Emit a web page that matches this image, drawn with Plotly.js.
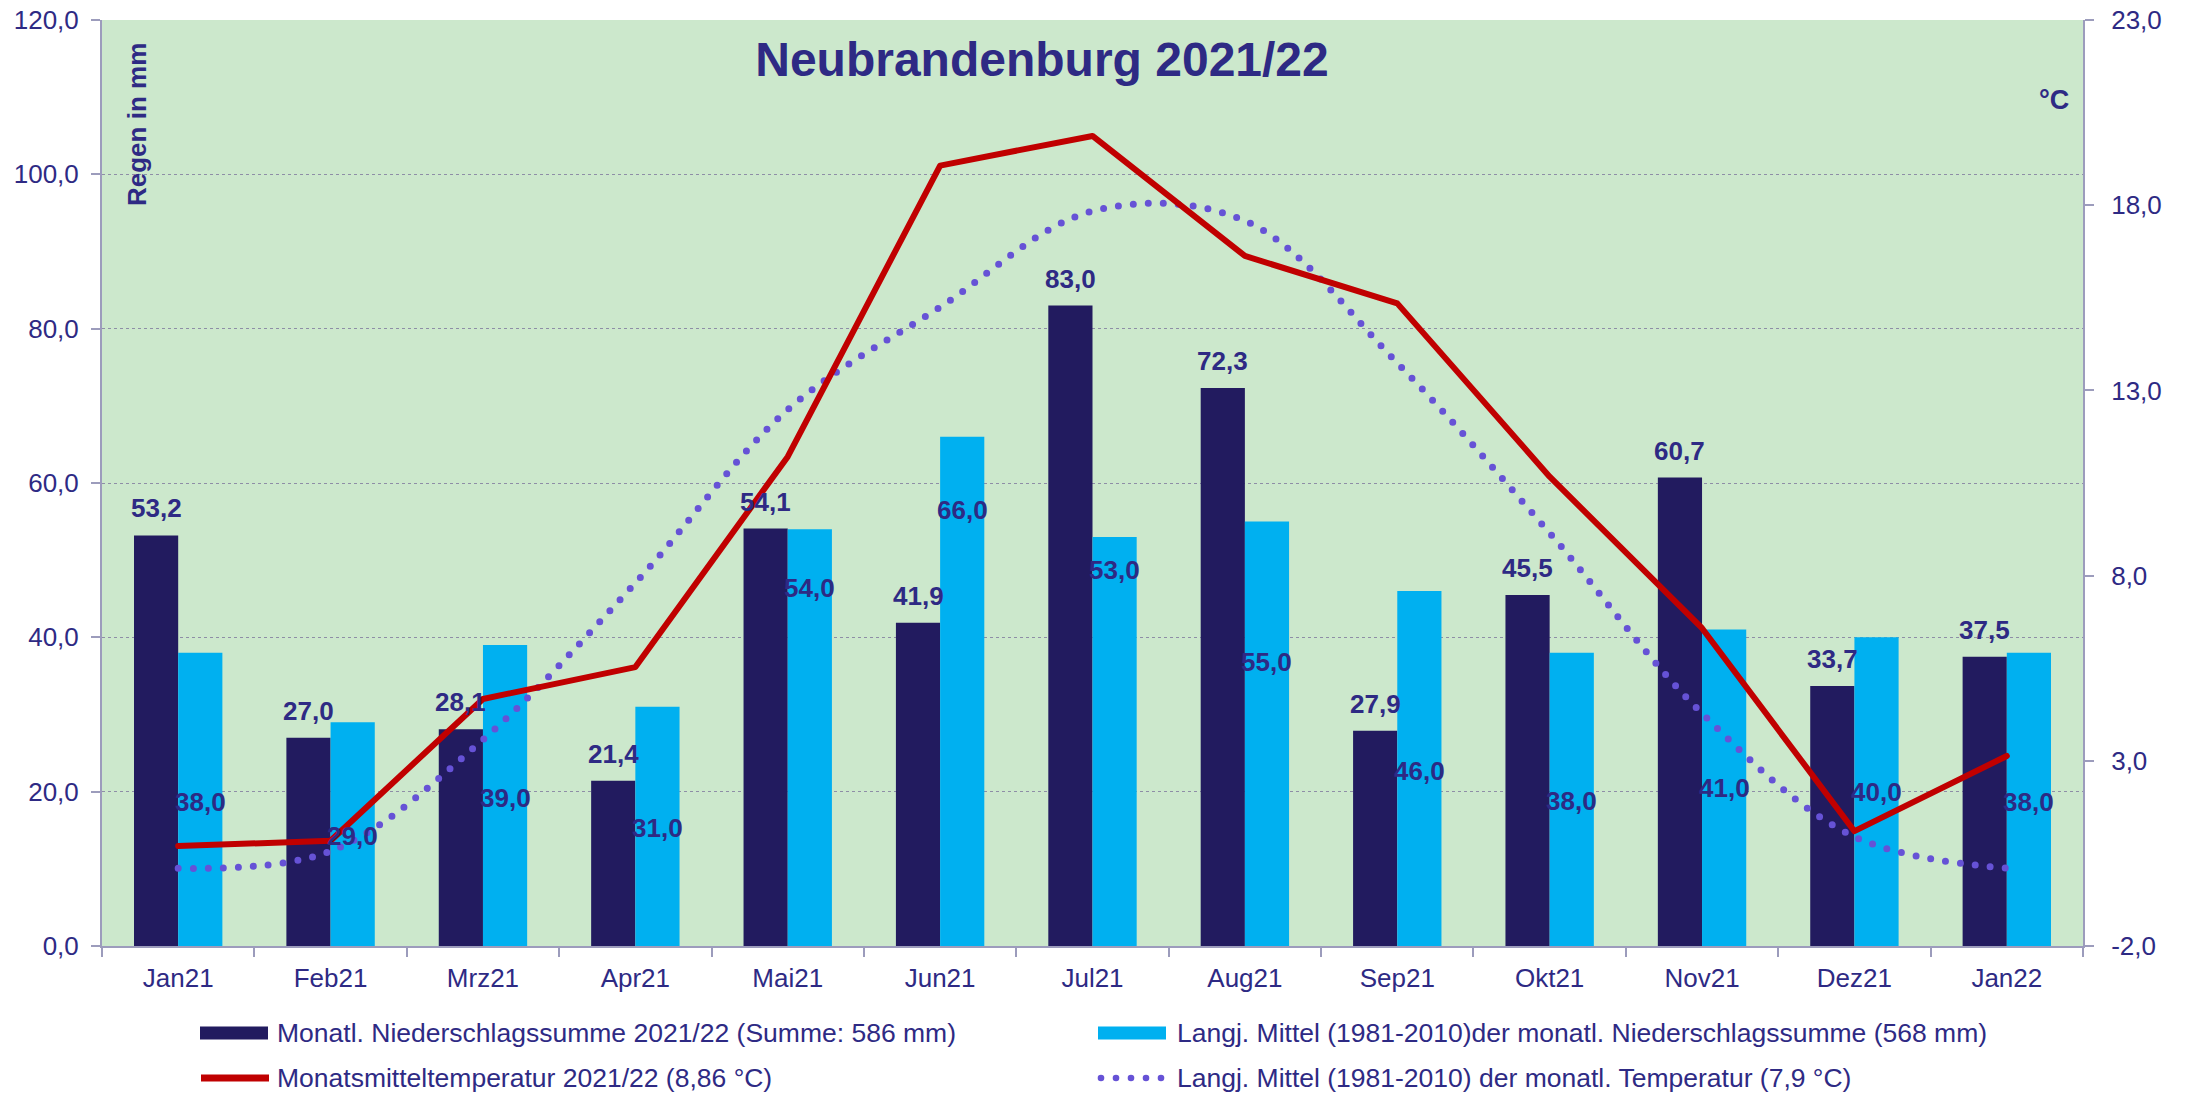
<!DOCTYPE html>
<html>
<head>
<meta charset="utf-8">
<script src="https://cdn.plot.ly/plotly-3.0.1.min.js"></script>
<style>
  html, body { margin: 0; padding: 0; background: #ffffff; }
  #chart { width: 2185px; height: 1095px; }
</style>
</head>
<body>
<div id="chart"></div>
<script>
// ---------------- data ----------------
const months = ['Jan21','Feb21','Mrz21','Apr21','Mai21','Jun21','Jul21','Aug21','Sep21','Okt21','Nov21','Dez21','Jan22'];
const rain2021 = [53.2, 27.0, 28.1, 21.4, 54.1, 41.9, 83.0, 72.3, 27.9, 45.5, 60.7, 33.7, 37.5];
const rainMean = [38.0, 29.0, 39.0, 31.0, 54.0, 66.0, 53.0, 55.0, 46.0, 38.0, 41.0, 40.0, 38.0];
const temp2021 = [0.70, 0.84, 4.67, 5.53, 11.21, 19.07, 19.87, 16.63, 15.35, 10.67, 6.58, 1.10, 3.13];
const tempMean = [0.10, 0.56, 3.57, 7.80, 12.48, 15.25, 17.84, 17.58, 13.74, 9.15, 4.28, 0.95, 0.10];
// height (mm) at which the labels of the long-term precipitation bars sit
const rainMeanLabelAt = [18.7, 14.3, 19.2, 15.3, 46.4, 56.5, 48.7, 36.8, 22.7, 18.8, 20.5, 20.0, 18.6];
const rainTicks = [0, 20, 40, 60, 80, 100, 120];
const tempTicks = [-2, 3, 8, 13, 18, 23];
const seriesNames = [
  'Monatl. Niederschlagssumme 2021/22 (Summe: 586 mm)',
  'Langj. Mittel (1981-2010)der monatl. Niederschlagssumme (568 mm)',
  'Monatsmitteltemperatur 2021/22 (8,86 °C)',
  'Langj. Mittel (1981-2010) der monatl. Temperatur (7,9 °C)'
];
const chartTitle = 'Neubrandenburg 2021/22';

// ---------------- style ----------------
const W = 2185, H = 1095;
const M = { l: 102, r: 102, t: 20, b: 149 };
const PW = W - M.l - M.r, PH = H - M.t - M.b;
const FONT = 'Liberation Sans, Arial, sans-serif';
const TXT = '#2E2A84';
const C_DARK = '#221B5F';
const C_LIGHT = '#00B0F0';
const C_RED = '#C00000';
const C_DOT = '#6652D6';
const AXIS = '#9C9CBC';
const BARGAP = 0.42;
const half = (1 - BARGAP) / 4;

const fmt = v => v.toFixed(1).replace('.', ',');
const px2x = X => (X - M.l) / PW;
const px2y = Y => (H - M.b - Y) / PH;

const traces = [
  { type: 'bar', name: seriesNames[0], x: months, y: rain2021,
    marker: { color: C_DARK }, yaxis: 'y', hoverinfo: 'skip' },
  { type: 'bar', name: seriesNames[1], x: months, y: rainMean,
    marker: { color: C_LIGHT }, yaxis: 'y', hoverinfo: 'skip' },
  { type: 'scatter', mode: 'lines', name: seriesNames[3], x: months, y: tempMean,
    yaxis: 'y2', line: { color: C_DOT, width: 7, dash: '0px,15px', shape: 'spline', smoothing: 1 },
    hoverinfo: 'skip' },
  { type: 'scatter', mode: 'lines', name: seriesNames[2], x: months, y: temp2021,
    yaxis: 'y2', line: { color: C_RED, width: 6 }, hoverinfo: 'skip' }
];

const annotations = [];
rain2021.forEach((v, i) => annotations.push({
  xref: 'x', yref: 'y', x: i - half, y: v, text: fmt(v), showarrow: false,
  yanchor: 'middle', xanchor: 'center', yshift: 27,
  font: { family: FONT, size: 26, color: TXT, weight: 'bold' }
}));
rainMean.forEach((v, i) => annotations.push({
  xref: 'x', yref: 'y', x: i + half, y: rainMeanLabelAt[i], text: fmt(v), showarrow: false,
  yanchor: 'middle', xanchor: 'center',
  font: { family: FONT, size: 26, color: TXT, weight: 'bold' }
}));
// axis captions inside the plot
annotations.push({ xref: 'paper', yref: 'paper', x: px2x(137), y: px2y(125), text: 'Regen in mm',
  textangle: -90, showarrow: false, xanchor: 'center', yanchor: 'middle',
  font: { family: FONT, size: 26, color: TXT, weight: 'bold' } });
annotations.push({ xref: 'paper', yref: 'paper', x: px2x(2054), y: px2y(100), text: '°C',
  showarrow: false, xanchor: 'center', yanchor: 'middle',
  font: { family: FONT, size: 27, color: TXT, weight: 'bold' } });

// custom legend
const legRows = [1033, 1078];
const legCols = [{ mark: 200, text: 275 }, { mark: 1098, text: 1175 }];
const legendOrder = [0, 1, 2, 3];
const shapes = [];
legendOrder.forEach((si, k) => {
  const row = legRows[Math.floor(k / 2)], col = legCols[k % 2];
  annotations.push({ xref: 'paper', yref: 'paper', x: px2x(col.text), y: px2y(row),
    text: seriesNames[si], showarrow: false, xanchor: 'left', yanchor: 'middle',
    font: { family: FONT, size: 26.5, color: TXT } });
  if (si === 0 || si === 1) {
    shapes.push({ type: 'rect', xref: 'paper', yref: 'paper',
      x0: px2x(col.mark), x1: px2x(col.mark + 68), y0: px2y(row - 6.5), y1: px2y(row + 6.5),
      fillcolor: si === 0 ? C_DARK : C_LIGHT, line: { width: 0 } });
  } else if (si === 2) {
    shapes.push({ type: 'line', xref: 'paper', yref: 'paper',
      x0: px2x(col.mark + 1), x1: px2x(col.mark + 69), y0: px2y(row), y1: px2y(row),
      line: { color: C_RED, width: 7 } });
  } else {
    for (let d = 0; d < 5; d++) {
      const cx = col.mark + 3 + d * 15;
      shapes.push({ type: 'circle', xref: 'paper', yref: 'paper',
        x0: px2x(cx - 3.3), x1: px2x(cx + 3.3), y0: px2y(row - 3.3), y1: px2y(row + 3.3),
        fillcolor: C_DOT, line: { width: 0 } });
    }
  }
});

const layout = {
  width: W, height: H,
  margin: M,
  paper_bgcolor: '#FFFFFF',
  plot_bgcolor: '#CCE8CC',
  separators: ',.',
  barmode: 'group', bargap: BARGAP, bargroupgap: 0,
  showlegend: false,
  font: { family: FONT, size: 26, color: TXT },
  title: { text: chartTitle, x: 1042 / W, xanchor: 'center',
    xref: 'container', yref: 'container', y: 1 - 59 / H, yanchor: 'middle',
    font: { family: FONT, size: 48, color: TXT, weight: 'bold' } },
  xaxis: {
    type: 'category', categoryorder: 'array', categoryarray: months,
    tickson: 'boundaries', ticks: 'outside', ticklen: 9, tickwidth: 2, tickcolor: AXIS,
    showline: true, linecolor: AXIS, linewidth: 2, showgrid: false,
    tickfont: { family: FONT, size: 26, color: TXT }, ticklabelstandoff: 8,
    fixedrange: true
  },
  yaxis: {
    range: [rainTicks[0], rainTicks[rainTicks.length - 1]],
    tickvals: rainTicks, ticktext: rainTicks.map(fmt),
    ticks: 'outside', ticklen: 9, tickwidth: 2, tickcolor: AXIS,
    showline: true, linecolor: AXIS, linewidth: 2,
    showgrid: true, gridcolor: '#8E8EA6', gridwidth: 1, griddash: 'dot',
    zeroline: false, tickfont: { family: FONT, size: 26, color: TXT },
    ticklabelstandoff: 7, fixedrange: true
  },
  yaxis2: {
    overlaying: 'y', side: 'right',
    range: [tempTicks[0], tempTicks[tempTicks.length - 1]],
    tickvals: tempTicks, ticktext: tempTicks.map(fmt),
    ticks: 'outside', ticklen: 9, tickwidth: 2, tickcolor: AXIS,
    showline: true, linecolor: AXIS, linewidth: 2, showgrid: false, zeroline: false,
    tickfont: { family: FONT, size: 26, color: TXT },
    ticklabelstandoff: 12, fixedrange: true
  },
  annotations: annotations,
  shapes: shapes
};

Plotly.newPlot('chart', traces, layout, { staticPlot: true, displayModeBar: false, responsive: false })
  .then(gd => {
    // round dots for the dotted line, round joins for the red line
    gd.querySelectorAll('.scatterlayer .js-line').forEach(p => {
      p.style.strokeLinecap = 'round';
      p.style.strokeLinejoin = 'round';
    });
  });
</script>
</body>
</html>
